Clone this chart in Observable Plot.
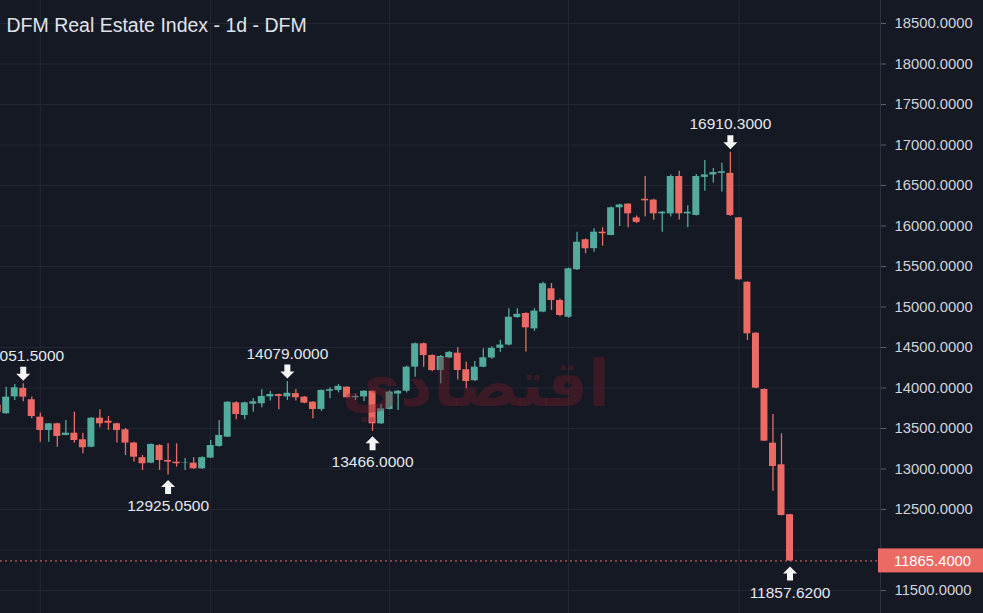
<!DOCTYPE html>
<html>
<head>
<meta charset="utf-8">
<script src="https://cdn.jsdelivr.net/npm/d3@7"></script>
<script src="https://cdn.jsdelivr.net/npm/@observablehq/plot@0.6"></script>
<style>
  html, body { margin: 0; padding: 0; background: #151924; overflow: hidden; }
  #wrap { position: relative; width: 983px; height: 613px; }
  #wm { position: absolute; left: 355px; top: 347px; width: 255px; text-align: center;
        font-family: "DejaVu Sans", sans-serif; font-weight: bold; font-size: 64px;
        color: rgba(120, 28, 42, 0.38); pointer-events: none; direction: rtl; }
</style>
</head>
<body>
<div id="wrap"></div>
<script>
// ---- data ----
const opens = [13790,13682,13890,13995,13855,13640,13476,13558,13414,13442,
  13361,13269,13627,13590,13558,13484,13320,13140,13072,13290,
  13105,13084,13070,13072,13003,13135,13278,13393,13817,13660,
  13800,13805,13890,13918,13890,13930,13887,13825,13735,13960,
  13970,14010,13880,13890,13960,13558,13735,13925,13960,14257,
  14546,14401,14216,14370,14430,14225,14090,14257,14370,14490,
  14530,14870,14920,14730,14937,15225,15080,14874,15460,15830,
  15720,15924,15883,16225,16270,16100,16330,16320,16150,16150,
  16611,16150,16130,16600,16630,16650,16650,16101,15306,14677,
  13982,13319,13052,12436];
const highs = [13820,14010,14043,14051.5,13890,13690,13560,13565,13600,13701,
  13442,13635,13731,13648,13565,13500,13330,13167,13310,13300,
  13315,13310,13130,13140,13150,13352,13600,13830,13830,13825,
  13870,13978,13960,13925,14079,13980,13895,13830,13975,14003,
  14043,14015,13925,13965,13965,13797,13962,13970,14270,14555,
  14555,14410,14400,14450,14496,14318,14327,14485,14510,14590,
  14978,14978,14930,14978,15307,15290,15100,15480,15924,15840,
  15966,15978,16235,16270,16275,16125,16610,16330,16180,16630,
  16677,16250,16635,16810,16710,16775,16910.3,16105,15310,14680,
  13990,13673,13435,12440];
const lows = [13680,13675,13846,13830,13620,13330,13330,13269,13410,13320,
  13188,13262,13509,13476,13320,13167,13084,12982,13065,12982,
  12925.05,13023,12982,12995,12995,13130,13270,13390,13608,13608,
  13700,13757,13838,13730,13846,13840,13805,13620,13710,13867,
  13940,13875,13846,13830,13466,13550,13730,13722,13940,14134,
  14257,14200,14052,14360,14100,13990,14080,14250,14355,14440,
  14520,14860,14443,14700,14930,14957,14880,14860,15450,15657,
  15677,15750,15880,15993,15978,16030,16110,16070,15924,16110,
  16075,15978,16125,16430,16530,16420,16117,15330,14587,13990,
  13340,12726,12420,11857.62];
const closes = [13700,13887,14003,13887,13648,13476,13558,13402,13442,13352,
  13262,13627,13558,13565,13476,13320,13146,13065,13303,13105,
  13085,13065,13075,13003,13140,13290,13414,13825,13673,13817,
  13830,13895,13920,13895,13935,13880,13813,13735,13970,13980,
  14020,13880,13895,13960,13558,13743,13950,13960,14257,14546,
  14401,14216,14389,14440,14216,14080,14257,14373,14490,14530,
  14874,14910,14743,14950,15287,15080,14895,15472,15800,15719,
  15924,15904,16225,16260,16150,16045,16310,16150,16170,16611,
  16150,16170,16611,16630,16660,16670,16130,15336,14669,13998,
  13344,13031,12426,11865.4];
const priceTicks = [11500,12000,12500,13000,13500,14000,14500,15000,15500,16000,16500,17000,17500,18000,18500];
const hiddenTick = 12000; // covered by the current-price tag in the reference
const monthStarts = [5, 25, 46, 67, 87];
const markedHighs = [3, 34, 86];
const markedLows = [20, 44, 93];
const title = "DFM Real Estate Index - 1d - DFM";
const lastPrice = 11865.4;

// ---- styling ----
const UP = "#52ab9c", DOWN = "#ec6a64", GRID = "#232733", TEXT = "#d1d4dc";
const bars = opens.map((o, i) => ({i, o, h: highs[i], l: lows[i], c: closes[i]}));
const col = d => d.c >= d.o ? UP : DOWN;
const fmt = d3.format(".4f");

const downArrow = {draw(ctx) {
  ctx.moveTo(-3, -7); ctx.lineTo(3, -7); ctx.lineTo(3, 0); ctx.lineTo(7, 0);
  ctx.lineTo(0, 7); ctx.lineTo(-7, 0); ctx.lineTo(-3, 0); ctx.closePath();
}};
const upArrow = {draw(ctx) {
  ctx.moveTo(-3, 7); ctx.lineTo(3, 7); ctx.lineTo(3, 0); ctx.lineTo(7, 0);
  ctx.lineTo(0, -7); ctx.lineTo(-7, 0); ctx.lineTo(-3, 0); ctx.closePath();
}};

const xDomain = [0.33, 103.62];
const chart = Plot.plot({
  width: 983, height: 613,
  marginLeft: 0, marginRight: 103, marginTop: 23, marginBottom: 23,
  x: {domain: xDomain, axis: null},
  y: {domain: [11500, 18500], axis: null},
  style: {background: "#151924", color: TEXT, fontFamily: "'Liberation Sans', Arial, sans-serif",
          fontSize: "15px", overflow: "hidden"},
  marks: [
    Plot.ruleY(priceTicks, {stroke: GRID, strokeWidth: 1}),
    Plot.ruleX(monthStarts, {stroke: GRID, strokeWidth: 1, insetTop: -23, insetBottom: -23}),
    Plot.ruleY([lastPrice], {stroke: DOWN, strokeWidth: 1, strokeDasharray: "2,3"}),
    Plot.ruleX(bars, {x: "i", y1: "l", y2: "h", stroke: col, strokeWidth: 1.3}),
    Plot.rect(bars, {x1: d => d.i - 0.41, x2: d => d.i + 0.41, y1: "o", y2: "c", fill: col}),
    Plot.dot(markedHighs, {x: i => i, y: i => highs[i], symbol: downArrow, fill: "#f5f5f5", stroke: "none", dy: -10}),
    Plot.text(markedHighs, {x: i => i, y: i => highs[i], text: i => fmt(highs[i]), fill: "#e6e8ee", dy: -28, fontSize: 15.5}),
    Plot.dot(markedLows, {x: i => i, y: i => lows[i], symbol: upArrow, fill: "#f5f5f5", stroke: "none", dy: 12}),
    Plot.text(markedLows, {x: i => i, y: i => lows[i], text: i => fmt(lows[i]), fill: "#e6e8ee", dy: 31, fontSize: 15.5}),
    Plot.ruleX([xDomain[1]], {stroke: "#2e323d", strokeWidth: 1, insetTop: -23, insetBottom: -23}),
    Plot.axisY({anchor: "right", ticks: priceTicks, tickFormat: d => d === hiddenTick ? "" : fmt(d),
                tickSize: 5, tickPadding: 9, stroke: "#5d606b", fill: TEXT, label: null, fontSize: 14.8}),
    Plot.text([title], {frameAnchor: "top-left", dx: 6, dy: 2, textAnchor: "start", lineAnchor: "middle",
                        fontSize: 19.5, fill: "#e0e3eb"})
  ]
});

// current-price tag on the price scale, positioned with the chart's own y scale
const ys = chart.scale("y").apply(lastPrice);
const svg = d3.select(chart);
const tagX = 983 - 103 - 2;
svg.append("rect").attr("x", tagX).attr("y", ys - 12).attr("width", 983 - tagX).attr("height", 24)
  .attr("fill", DOWN);
svg.append("text").attr("x", 894).attr("y", ys).attr("dy", "0.36em").attr("text-anchor", "start")
  .attr("fill", "#ffffff").attr("font-size", 14.8).text(fmt(lastPrice));

const wrap = document.getElementById("wrap");
wrap.appendChild(chart);
const wm = document.createElement("div");
wm.id = "wm";
wm.textContent = "اقتصادي";
wrap.appendChild(wm);
</script>
</body>
</html>
